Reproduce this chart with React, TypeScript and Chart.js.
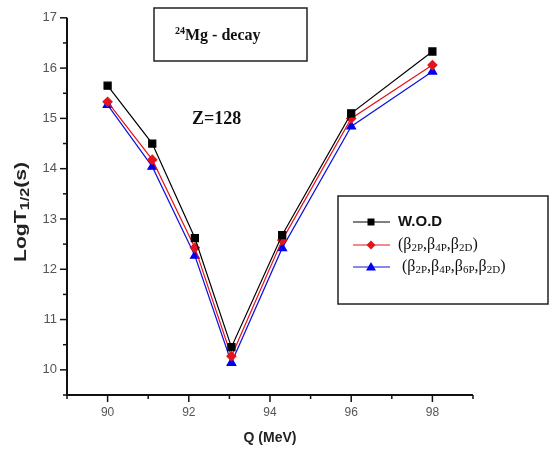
import React, { useEffect, useRef } from 'react';
import { Chart, registerables } from 'chart.js';

Chart.register(...registerables);

// ---- data ----
const qValues = [90, 91.1, 92.15, 93.05, 94.3, 96, 98];
const wodValues = [15.65, 14.5, 12.62, 10.45, 12.68, 15.1, 16.33];
const beta3Values = [15.33, 14.18, 12.43, 10.27, 12.58, 15.0, 16.06];
const beta4Values = [15.27, 14.04, 12.27, 10.14, 12.42, 14.84, 15.93];
const seriesNames = ['W.O.D', '(β2P,β4P,β2D)', '(β2P,β4P,β6P,β2D)'];
const xTickLabels = ['90', '92', '94', '96', '98'];
const yTickLabels = ['10', '11', '12', '13', '14', '15', '16', '17'];

const SANS = '"Liberation Sans", Arial, sans-serif';
const SERIF = '"Liberation Serif", "Times New Roman", serif';

type Part = { t: string; sub?: boolean; sup?: boolean };

function drawRich(
  ctx: CanvasRenderingContext2D,
  parts: Part[],
  x: number,
  y: number,
  mainFont: string,
  smallFont: string,
  off: number
) {
  let cx = x;
  for (const p of parts) {
    ctx.font = p.sub || p.sup ? smallFont : mainFont;
    const dy = p.sub ? off : p.sup ? -off * 2 : 0;
    ctx.fillText(p.t, cx, y + dy);
    cx += ctx.measureText(p.t).width;
  }
  return cx - x;
}

function measureRich(ctx: CanvasRenderingContext2D, parts: Part[], mainFont: string, smallFont: string) {
  let w = 0;
  for (const p of parts) {
    ctx.font = p.sub || p.sup ? smallFont : mainFont;
    w += ctx.measureText(p.t).width;
  }
  return w;
}

function drawMarker(ctx: CanvasRenderingContext2D, style: string, x: number, y: number, color: string) {
  ctx.fillStyle = color;
  ctx.beginPath();
  if (style === 'rect') {
    ctx.rect(x - 3.5, y - 3.5, 7, 7);
  } else if (style === 'rectRot') {
    ctx.moveTo(x, y - 4.5);
    ctx.lineTo(x + 4.5, y);
    ctx.lineTo(x, y + 4.5);
    ctx.lineTo(x - 4.5, y);
    ctx.closePath();
  } else {
    ctx.moveTo(x, y - 5);
    ctx.lineTo(x + 5, y + 3.5);
    ctx.lineTo(x - 5, y + 3.5);
    ctx.closePath();
  }
  ctx.fill();
}

const legendParts: Part[][] = [
  [{ t: 'W.O.D' }],
  [
    { t: '(β' }, { t: '2P', sub: true }, { t: ',β' }, { t: '4P', sub: true },
    { t: ',β' }, { t: '2D', sub: true }, { t: ')' },
  ],
  [
    { t: ' (β' }, { t: '2P', sub: true }, { t: ',β' }, { t: '4P', sub: true },
    { t: ',β' }, { t: '6P', sub: true }, { t: ',β' }, { t: '2D', sub: true }, { t: ')' },
  ],
];

const decorPlugin = {
  id: 'decor',
  afterDraw(chart: any) {
    const ctx: CanvasRenderingContext2D = chart.ctx;
    const { left, right, top, bottom } = chart.chartArea;
    const xs = chart.scales.x;
    const ys = chart.scales.y;
    ctx.save();

    // axes
    ctx.strokeStyle = '#111';
    ctx.lineWidth = 2;
    ctx.beginPath();
    ctx.moveTo(left, top);
    ctx.lineTo(left, bottom);
    ctx.lineTo(right, bottom);
    ctx.stroke();

    // ticks (outward, major/minor)
    ctx.lineWidth = 1.5;
    xs.ticks.forEach((t: any) => {
      const px = xs.getPixelForValue(t.value);
      const major = xTickLabels.includes(String(t.value));
      ctx.beginPath();
      ctx.moveTo(px, bottom);
      ctx.lineTo(px, bottom + (major ? 7 : 4));
      ctx.stroke();
    });
    ys.ticks.forEach((t: any) => {
      const py = ys.getPixelForValue(t.value);
      const major = yTickLabels.includes(String(t.value));
      ctx.beginPath();
      ctx.moveTo(left, py);
      ctx.lineTo(left - (major ? 7 : 4), py);
      ctx.stroke();
    });

    // x title
    ctx.fillStyle = '#222';
    ctx.textBaseline = 'middle';
    ctx.textAlign = 'center';
    ctx.font = `bold 14px ${SANS}`;
    ctx.fillText('Q (MeV)', (left + right) / 2, 438);

    // y title (rotated, with subscript)
    ctx.textAlign = 'left';
    const yParts: Part[] = [{ t: 'LogT' }, { t: '1/2', sub: true }, { t: '(s)' }];
    const mf = `bold 17px ${SANS}`;
    const sf = `bold 13px ${SANS}`;
    const w = measureRich(ctx, yParts, mf, sf);
    const target = 100;
    ctx.save();
    ctx.translate(21, 212);
    ctx.rotate(-Math.PI / 2);
    ctx.scale(target / w, 1);
    drawRich(ctx, yParts, -w / 2, 0, mf, sf, 4);
    ctx.restore();

    // annotation box
    ctx.strokeStyle = '#222';
    ctx.lineWidth = 1.5;
    ctx.strokeRect(154, 8, 153, 53);
    ctx.fillStyle = '#111';
    ctx.textBaseline = 'alphabetic';
    drawRich(ctx, [{ t: '24', sup: true }, { t: 'Mg - decay' }], 175, 40, `bold 16px ${SERIF}`, `bold 10px ${SERIF}`, 3);

    ctx.font = `bold 18px ${SERIF}`;
    ctx.fillText('Z=128', 192, 124);

    // legend
    ctx.strokeRect(338, 196, 210, 108);
    const rowsY = [222, 245, 267];
    chart.data.datasets.forEach((ds: any, i: number) => {
      const y = rowsY[i];
      ctx.strokeStyle = ds.borderColor;
      ctx.lineWidth = 1.2;
      ctx.beginPath();
      ctx.moveTo(353, y);
      ctx.lineTo(390, y);
      ctx.stroke();
      drawMarker(ctx, ds.pointStyle, 371, y, ds.pointBackgroundColor);
      ctx.fillStyle = '#111';
      ctx.textBaseline = 'middle';
      if (i === 0) {
        ctx.font = `bold 15px ${SANS}`;
        ctx.fillText(ds.label, 398, y);
      } else {
        drawRich(ctx, legendParts[i], 398, y, `16px ${SERIF}`, `11px ${SERIF}`, 3);
      }
    });

    ctx.restore();
  },
};

export default function App() {
  const ref = useRef<HTMLCanvasElement | null>(null);

  useEffect(() => {
    document.body.style.margin = '0';
    if (!ref.current) return;
    const mk = (vals: number[]) => qValues.map((q, i) => ({ x: q, y: vals[i] }));
    const chart = new Chart(ref.current, {
      type: 'line',
      data: {
        datasets: [
          {
            label: seriesNames[0],
            data: mk(wodValues),
            borderColor: '#000000',
            backgroundColor: '#000000',
            pointBackgroundColor: '#000000',
            pointBorderColor: '#000000',
            pointStyle: 'rect',
            pointRadius: 5,
            borderWidth: 1.2,
          },
          {
            label: seriesNames[1],
            data: mk(beta3Values),
            borderColor: '#e3141c',
            backgroundColor: '#e3141c',
            pointBackgroundColor: '#e3141c',
            pointBorderColor: '#e3141c',
            pointStyle: 'rectRot',
            pointRadius: 4.5,
            borderWidth: 1.2,
          },
          {
            label: seriesNames[2],
            data: mk(beta4Values),
            borderColor: '#1010e0',
            backgroundColor: '#0000ee',
            pointBackgroundColor: '#0000ee',
            pointBorderColor: '#0000ee',
            pointStyle: 'triangle',
            pointRadius: 5,
            borderWidth: 1.2,
          },
        ],
      },
      options: {
        animation: false,
        responsive: false,
        devicePixelRatio: 1,
        layout: { padding: { top: 13, right: 77, left: 0, bottom: 0 } },
        plugins: { legend: { display: false }, tooltip: { enabled: false } },
        scales: {
          x: {
            type: 'linear',
            min: 89,
            max: 99,
            grid: { display: false, drawTicks: false },
            border: { display: false },
            ticks: {
              stepSize: 1,
              autoSkip: false,
              maxRotation: 0,
              padding: 10,
              color: '#555',
              font: { family: SANS, size: 12 },
              callback: (v: any) => (xTickLabels.includes(String(v)) ? String(v) : ''),
            },
            afterFit: (s: any) => {
              s.height = 60;
            },
          },
          y: {
            type: 'linear',
            min: 9.5,
            max: 17,
            grid: { display: false, drawTicks: false },
            border: { display: false },
            ticks: {
              stepSize: 0.5,
              autoSkip: false,
              padding: 10,
              color: '#555',
              font: { family: SANS, size: 13 },
              callback: (v: any) => (yTickLabels.includes(String(v)) ? String(v) : ''),
            },
            afterFit: (s: any) => {
              s.width = 67;
            },
          },
        },
      },
      plugins: [decorPlugin],
    } as any);
    return () => chart.destroy();
  }, []);

  return (
    <div style={{ position: 'absolute', left: 0, top: 0, width: 550, height: 455, background: '#fff' }}>
      <canvas ref={ref} width={550} height={455} />
    </div>
  );
}
